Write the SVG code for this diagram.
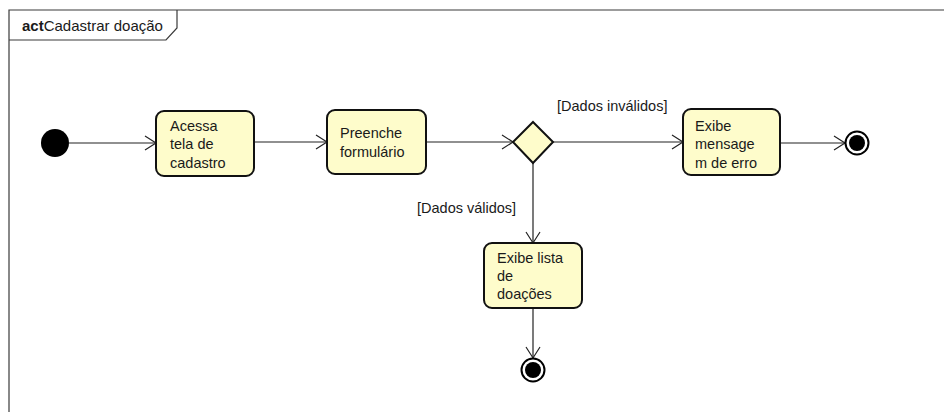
<svg xmlns="http://www.w3.org/2000/svg" width="944" height="412" viewBox="0 0 944 412">
  <defs>
    <style>
      text { font-family: "Liberation Sans", Arial, sans-serif; font-size: 14.5px; fill: #1a1a1a; }
      .frame { fill: none; stroke: #3a3a3a; stroke-width: 1.2; }
      .action { fill: #fefccb; stroke: #111; stroke-width: 2; }
      .edge { fill: none; stroke: #222; stroke-width: 1.2; }
      .title { font-size: 15px; }
      .title-bold { font-weight: bold; }
    </style>
    <marker id="open-arrow" markerWidth="14" markerHeight="16" refX="12" refY="8" orient="auto" markerUnits="userSpaceOnUse">
      <path d="M1,1 L12,8 L1,15" fill="none" stroke="#222" stroke-width="1.2"/>
    </marker>
  </defs>

  <rect width="944" height="412" fill="#ffffff"/>

  <!-- activity frame with name tab -->
  <g id="frame">
    <path class="frame" d="M944,10 L9,10 L9,412"/>
    <path class="frame" d="M9,40 L166,40 L177,28 L177,10"/>
    <text class="title" x="22" y="31"><tspan class="title-bold">act</tspan>Cadastrar doação</text>
  </g>

  <!-- connectors -->
  <g id="connectors">
    <line class="edge" x1="69" y1="143" x2="156" y2="143" marker-end="url(#open-arrow)"/>
    <line class="edge" x1="254" y1="142" x2="327" y2="142" marker-end="url(#open-arrow)"/>
    <line class="edge" x1="426" y1="142" x2="513" y2="142" marker-end="url(#open-arrow)"/>
    <line class="edge" x1="553" y1="142" x2="683" y2="142" marker-end="url(#open-arrow)"/>
    <line class="edge" x1="780" y1="143" x2="845" y2="143" marker-end="url(#open-arrow)"/>
    <line class="edge" x1="533" y1="163" x2="533" y2="243" marker-end="url(#open-arrow)"/>
    <line class="edge" x1="533" y1="308" x2="533" y2="358" marker-end="url(#open-arrow)"/>
    <text x="557" y="111">[Dados inválidos]</text>
    <text x="417" y="213">[Dados válidos]</text>
  </g>

  <g id="initial">
    <circle cx="55" cy="143" r="14" fill="#000"/>
  </g>

  <g id="acessa-tela">
    <rect class="action" x="156" y="111" width="98" height="65" rx="8"/>
    <text x="170" y="131">Acessa</text>
    <text x="170" y="149">tela de</text>
    <text x="170" y="168">cadastro</text>
  </g>

  <g id="preenche-formulario">
    <rect class="action" x="327" y="110" width="99" height="64" rx="8"/>
    <text x="340" y="138">Preenche</text>
    <text x="340" y="157">formulário</text>
  </g>

  <g id="decision">
    <polygon class="action" points="533,122 553,142 533,163 513,142"/>
  </g>

  <g id="exibe-mensagem">
    <rect class="action" x="683" y="109" width="97" height="66" rx="8"/>
    <text x="695" y="131">Exibe</text>
    <text x="695" y="149">mensage</text>
    <text x="695" y="168">m de erro</text>
  </g>

  <g id="exibe-lista">
    <rect class="action" x="484" y="243" width="98" height="65" rx="8"/>
    <text x="497" y="263">Exibe lista</text>
    <text x="497" y="281">de</text>
    <text x="497" y="299">doações</text>
  </g>

  <g id="final-erro">
    <circle cx="857" cy="143" r="11.5" fill="#fff" stroke="#000" stroke-width="2"/>
    <circle cx="857" cy="143" r="8" fill="#000"/>
  </g>

  <g id="final-lista">
    <circle cx="533" cy="370" r="11.5" fill="#fff" stroke="#000" stroke-width="2"/>
    <circle cx="533" cy="370" r="8" fill="#000"/>
  </g>
</svg>
